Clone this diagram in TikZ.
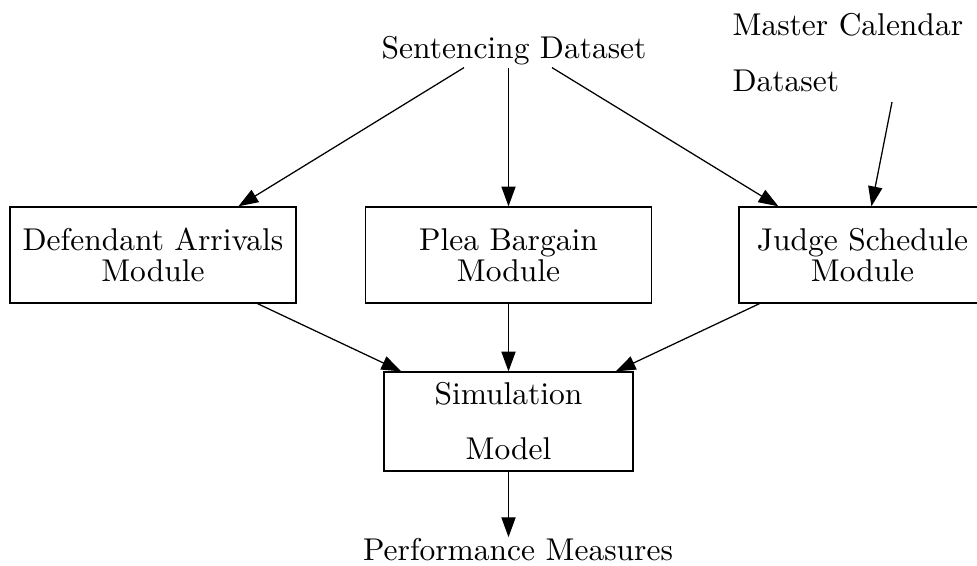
\documentclass[tikz,border=0pt]{standalone}
\usetikzlibrary{arrows.meta,calc}
\begin{document}
\begin{tikzpicture}[x=0.3175pt,y=-0.3175pt,
  box/.style={draw,line width=0.4pt,rectangle,align=center,inner sep=0pt,
    font=\fontsize{10pt}{9.8pt}\selectfont},
  lbl/.style={inner sep=0pt},
  arr/.style={line width=0.4pt,-{Triangle[length=6.3pt,width=4.5pt]}}]
\clip (0,0) rectangle (977,565);
% text labels
\node[lbl,anchor=base] (sent) at (514,58) {Sentencing Dataset};
\node[lbl,anchor=north west,align=left,font=\fontsize{10pt}{17.5pt}\selectfont] (mc) at (732,13.1) {Master Calendar\\Dataset};
\node[lbl,anchor=base] (perf) at (518,560) {Performance Measures};
% boxes
\node[box,minimum width=90.8pt,minimum height=30.5pt] (def) at (153,255) {Defendant Arrivals\\Module};
\node[box,minimum width=90.8pt,minimum height=30.5pt] (plea) at (508.5,255) {Plea Bargain\\Module};
\node[box,minimum width=78.4pt,minimum height=30.5pt] (judge) at (862.5,255) {Judge Schedule\\Module};
\node[box,minimum width=79.1pt,minimum height=31.4pt,font=\fontsize{10pt}{17.5pt}\selectfont] (sim) at (508.5,421.5) {Simulation\\Model};
% connectors
\coordinate (s0) at ($(sent.south)+(0,2.5)$);
\draw[arr] ($(s0)+(-50,0)$) -- ($(def.north west)+(229,0)$);
\draw[arr] (plea.north |- s0) -- (plea.north);
\draw[arr] ($(s0)+(38,0)$) -- ($(judge.north west)+(40,0)$);
\draw[arr] ($(mc.south west)+(160,10)$) -- ($(judge.north west)+(133,0)$);
\draw[arr] ($(def.south east)+(-39,0)$) -- ($(sim.north west)+(18,0)$);
\draw[arr] (plea.south) -- (sim.north);
\draw[arr] ($(judge.south west)+(21,0)$) -- ($(sim.north east)+(-18,0)$);
\draw[arr] (sim.south) -- (sim.south |- perf.north);
\end{tikzpicture}
\end{document}
